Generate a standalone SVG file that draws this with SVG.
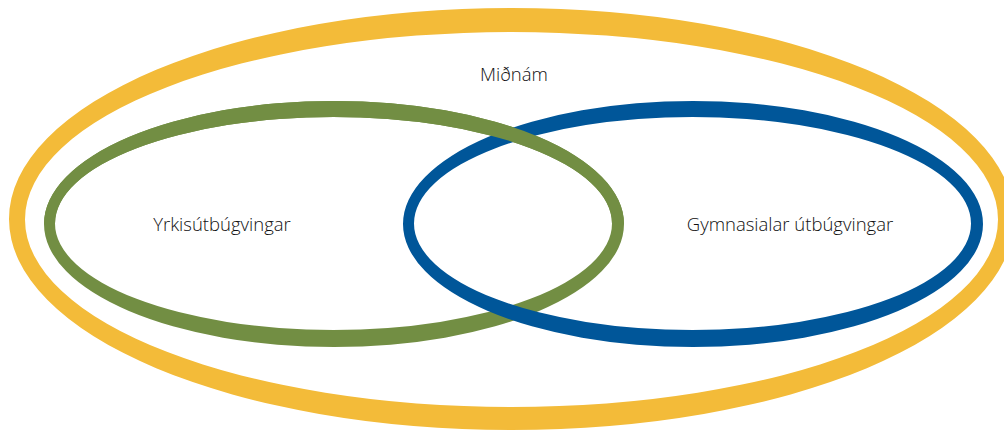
<svg xmlns="http://www.w3.org/2000/svg" width="1004" height="430" viewBox="0 0 1004 430">
<style>
.ring{fill-rule:evenodd;stroke:none}
.y{fill:#F3BB39}
.g{fill:#728E43}
.b{fill:#005699}
.lbl{font-family:"Open Sans","Noto Sans","Liberation Sans",sans-serif;font-size:18.5px;font-weight:300;fill:#111111}
</style>
<defs>
<clipPath id="topHalf"><rect x="0" y="0" width="1004" height="224"/></clipPath>
<path id="greenRing" d="M44,224 a290,123 0 1,0 580,0 a290,123 0 1,0 -580,0 Z M55,223.5 a278.5,106.5 0 1,0 557,0 a278.5,106.5 0 1,0 -557,0 Z"/>
</defs>
<g id="node-midnam">
<path class="ring y" d="M9,219 a502.5,211 0 1,0 1005,0 a502.5,211 0 1,0 -1005,0 Z M25,219.5 a486.5,187.5 0 1,0 973,0 a486.5,187.5 0 1,0 -973,0 Z"/>
<text class="lbl" x="514" y="81" text-anchor="middle">Miðnám</text>
</g>
<g id="node-yrkis">
<use href="#greenRing" class="ring g"/>
<text class="lbl" x="222" y="231" text-anchor="middle">Yrkisútbúgvingar</text>
</g>
<g id="node-gymnasialar">
<path class="ring b" d="M403,224 a290,123 0 1,0 580,0 a290,123 0 1,0 -580,0 Z M414,223.5 a278.5,106.5 0 1,0 557,0 a278.5,106.5 0 1,0 -557,0 Z"/>
<text class="lbl" x="790" y="231" text-anchor="middle">Gymnasialar útbúgvingar</text>
</g>
<g id="connectors">
<use href="#greenRing" class="ring g" clip-path="url(#topHalf)"/>
</g>
</svg>
